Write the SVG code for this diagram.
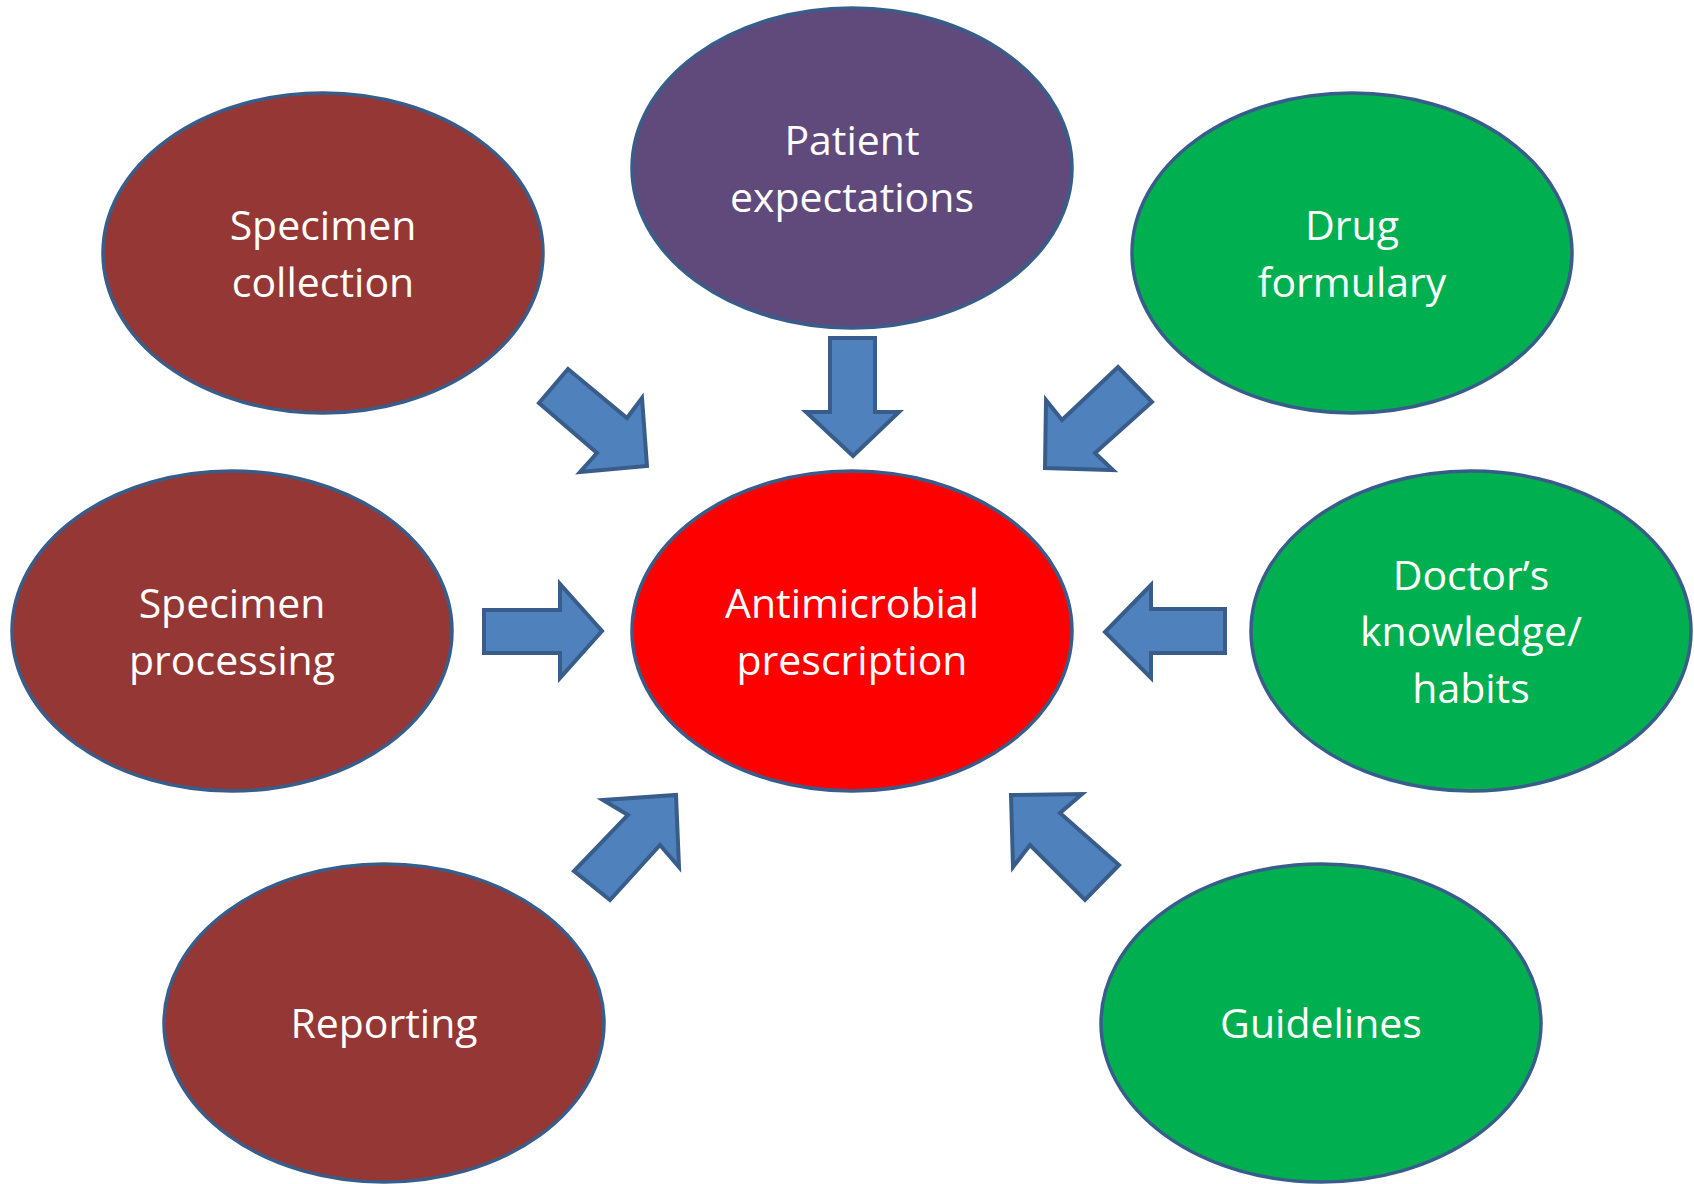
<svg xmlns="http://www.w3.org/2000/svg" width="1694" height="1184" viewBox="0 0 1694 1184">
<style>
.n ellipse{stroke:#385D8A;stroke-width:3.5}
.brown{fill:#953735}.purple{fill:#604A7B}.green{fill:#00B050}.red{fill:#FF0000}
.n text{font-family:"Open Sans","Noto Sans","DejaVu Sans",sans-serif;font-size:41px;fill:#FFFFFF;text-anchor:middle}
.arr polygon{fill:#4F81BD;stroke:#385D8A;stroke-width:4;stroke-linejoin:miter}
</style>
<rect width="1694" height="1184" fill="#FFFFFF"/>
<g id="connectors" class="arr">
<polygon id="a-collection" points="568,369 539,403 597,453 580,472 647,466 642,398 627,418"/>
<polygon id="a-patient" points="830,338 875,338 875,412 899,412 853,456 806,412 830,412"/>
<polygon id="a-formulary" points="1118,367 1152,402 1095,453 1113,470 1045,468 1046,400 1062,420"/>
<polygon id="a-processing" points="484,610 560,610 560,584 602,631 560,678 560,653 484,653"/>
<polygon id="a-doctor" points="1225,609 1151,609 1151,585 1105,632 1151,678 1151,653 1225,653"/>
<polygon id="a-reporting" points="603,800 676,795 679,867 660,845 610,900 574,871 628,815"/>
<polygon id="a-guidelines" points="1011,795 1082,794 1060,813 1119,865 1085,900 1030,845 1013,867"/>
</g>
<g id="patient" class="n"><ellipse class="purple" cx="852" cy="168" rx="220" ry="160"/><text x="852" y="155">Patient</text><text x="852" y="212">expectations</text></g>
<g id="collection" class="n"><ellipse class="brown" cx="323" cy="253" rx="220" ry="160"/><text x="323" y="240">Specimen</text><text x="323" y="297">collection</text></g>
<g id="formulary" class="n"><ellipse class="green" cx="1352" cy="253" rx="220" ry="160"/><text x="1352" y="240">Drug</text><text x="1352" y="297">formulary</text></g>
<g id="processing" class="n"><ellipse class="brown" cx="232" cy="631" rx="220" ry="160"/><text x="232" y="618">Specimen</text><text x="232" y="675">processing</text></g>
<g id="antimicrobial" class="n"><ellipse class="red" cx="852" cy="631" rx="220" ry="160"/><text x="852" y="618">Antimicrobial</text><text x="852" y="675">prescription</text></g>
<g id="doctor" class="n"><ellipse class="green" cx="1471" cy="631" rx="220" ry="160"/><text x="1471" y="590">Doctor’s</text><text x="1471" y="646">knowledge/</text><text x="1471" y="703">habits</text></g>
<g id="reporting" class="n"><ellipse class="brown" cx="384" cy="1023" rx="220" ry="159"/><text x="384" y="1038">Reporting</text></g>
<g id="guidelines" class="n"><ellipse class="green" cx="1321" cy="1023" rx="220" ry="159"/><text x="1321" y="1038">Guidelines</text></g>
</svg>
